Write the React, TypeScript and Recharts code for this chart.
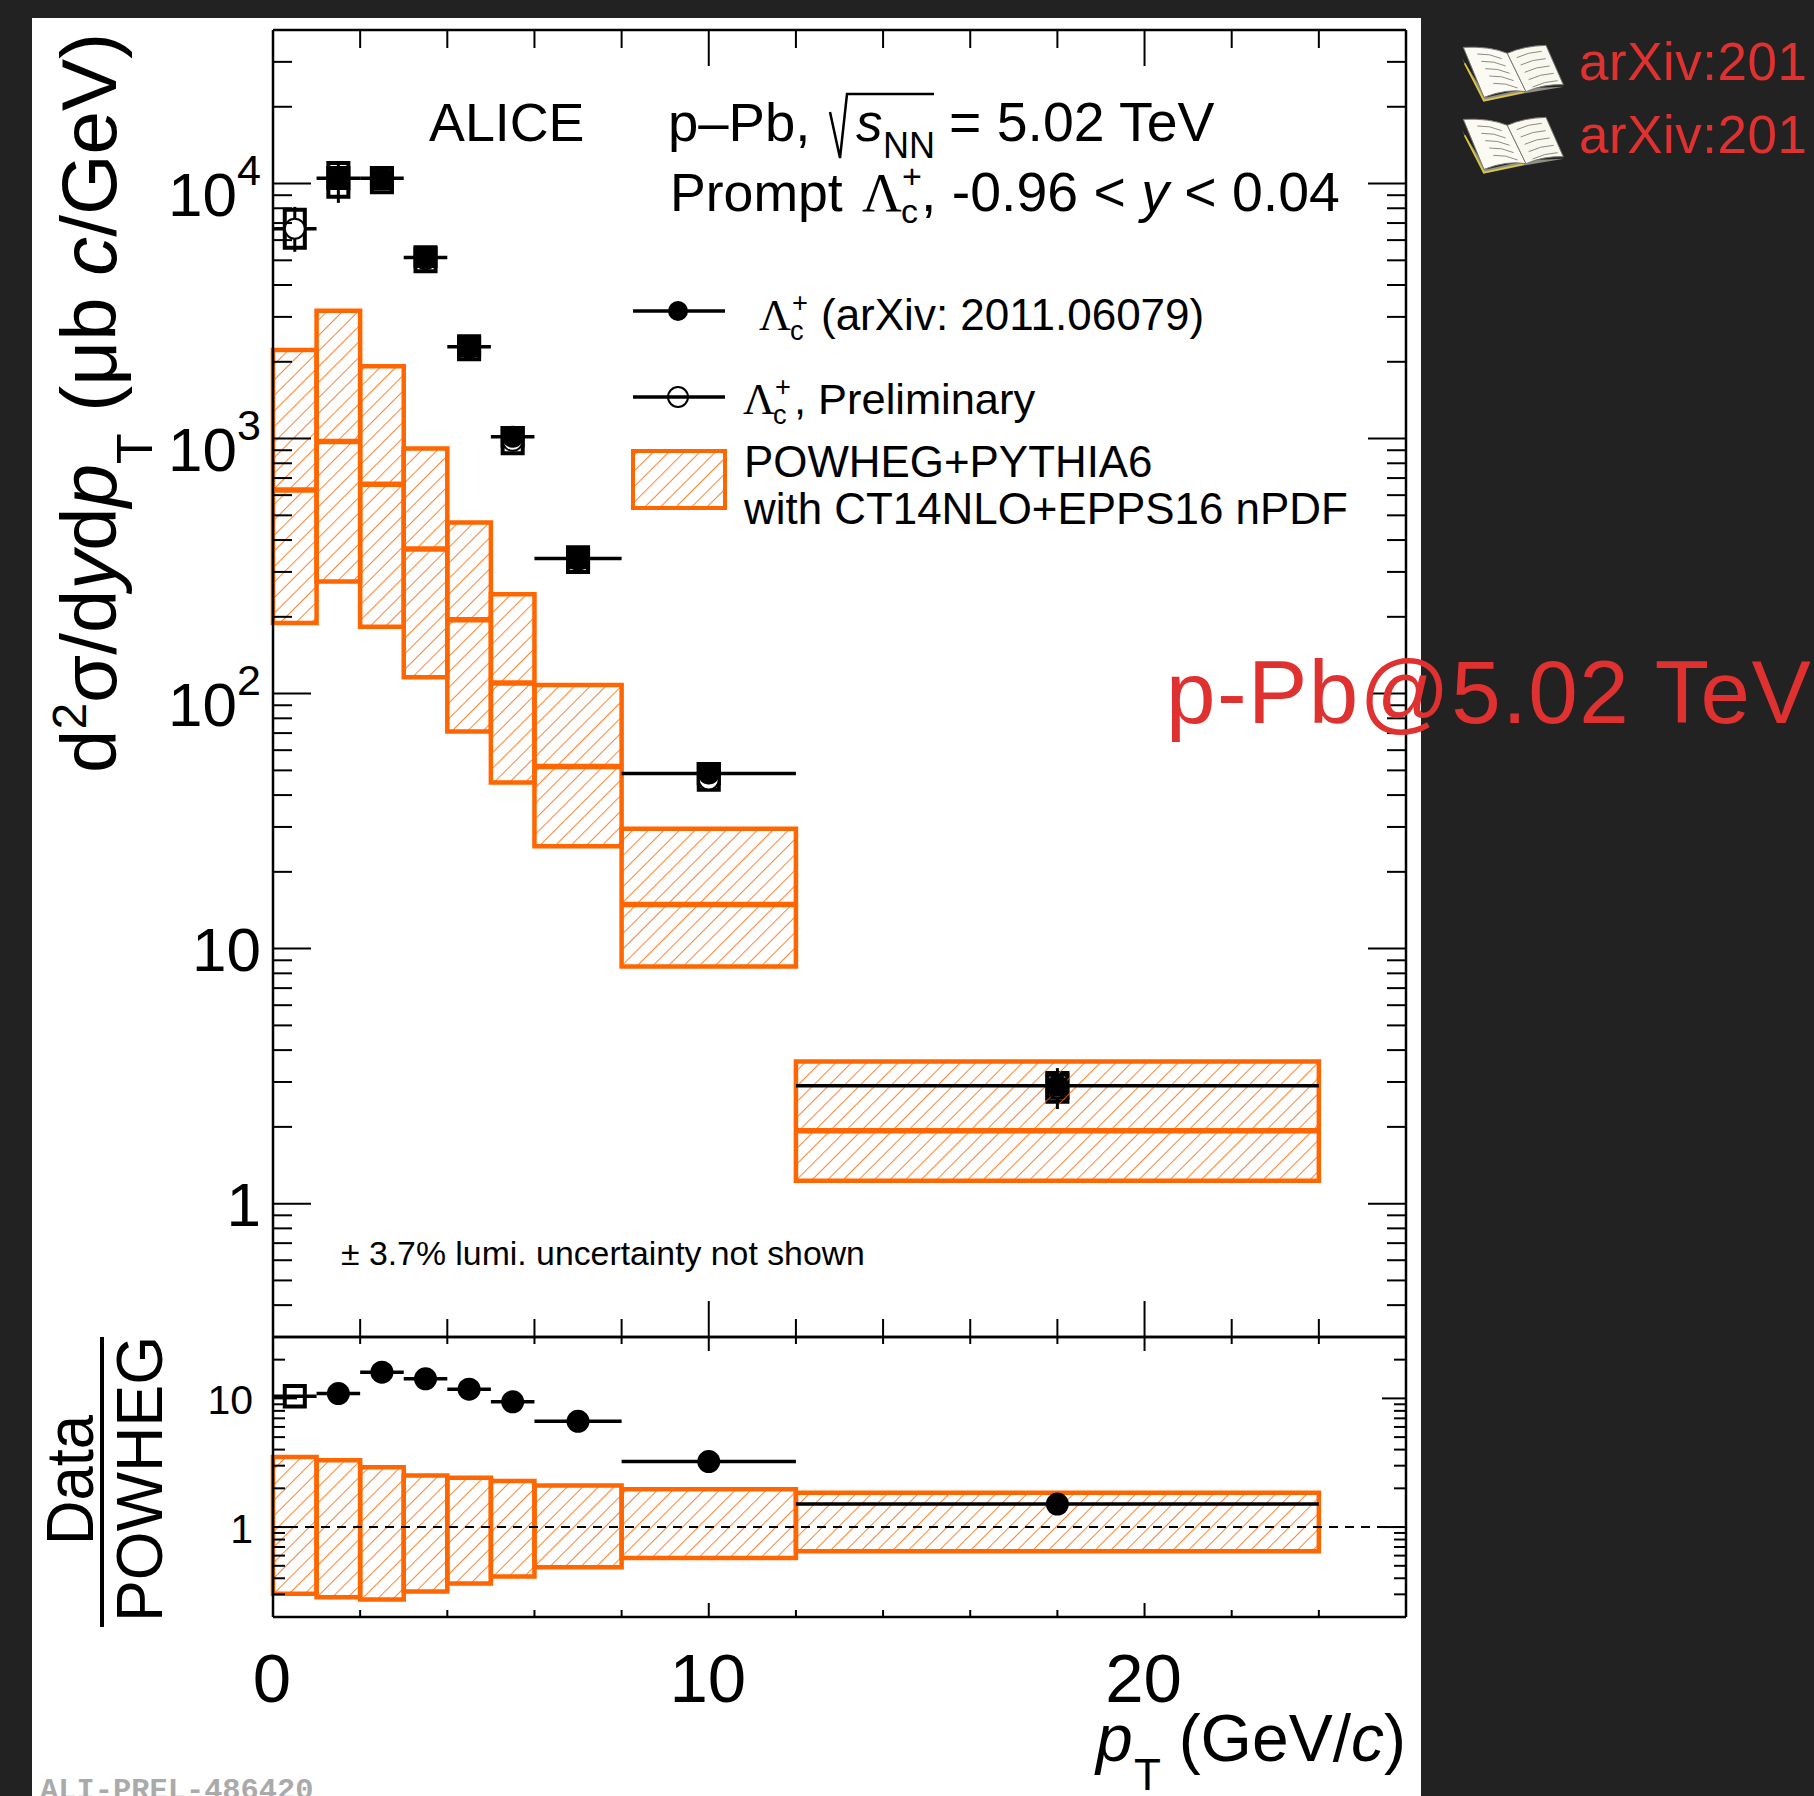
import React from 'react';
import {
  ComposedChart,
  ErrorBar,
  ReferenceArea,
  ReferenceLine,
  Scatter,
  XAxis,
  YAxis,
} from 'recharts';

// model bins (pT edges, GeV/c)
const binLow = [0, 1, 2, 3, 4, 5, 6, 8, 12];
const binHigh = [1, 2, 3, 4, 5, 6, 8, 12, 24];
const modelCentral = [628, 974, 662, 369, 195, 110, 51.8, 14.9, 1.93];
const modelUpper = [2223, 3170, 1920, 915, 469, 245, 108, 29.5, 3.61];
const modelLower = [189, 275, 183, 116, 71, 44.8, 25.2, 8.5, 1.23];
const ratioUpper = [3.5, 3.3, 2.91, 2.52, 2.42, 2.28, 2.1, 1.97, 1.85];
const ratioLower = [0.303, 0.285, 0.274, 0.316, 0.365, 0.413, 0.487, 0.574, 0.649];

// published points
const finalX = [1.5, 2.5, 3.5, 4.5, 5.5, 7, 10, 18];
const finalXLow = [1, 2, 3, 4, 5, 6, 8, 12];
const finalXHigh = [2, 3, 4, 5, 6, 8, 12, 24];
const finalValue = [10500, 10500, 5130, 2292, 1016, 339, 48.6, 2.9];
const finalSysUp = [11500, 11500, 5550, 2480, 1100, 365, 53, 3.2];
const finalSysDown = [9600, 9600, 4750, 2120, 940, 313, 44.5, 2.6];

// preliminary points (only the first bin shows its own horizontal bar)
const prelimX = [0.5, 1.5, 2.5, 3.5, 4.5, 5.5, 7, 10, 18];
const prelimXLow = [0, 1.5, 2.5, 3.5, 4.5, 5.5, 7, 10, 18];
const prelimXHigh = [1, 1.5, 2.5, 3.5, 4.5, 5.5, 7, 10, 18];
const prelimValue = [6650, 10500, 10400, 5050, 2270, 980, 335, 46, 2.85];
const prelimSysUp = [7900, 12050, 11500, 5630, 2520, 1100, 375, 52.9, 3.25];
const prelimSysDown = [5600, 8870, 9240, 4530, 2045, 875, 300, 42, 2.51];
const prelimStatUp = [8100, 12200, 11300, 5500, 2450, 1050, 360, 51, 3.4];
const prelimStatDown = [5400, 8400, 9500, 4650, 2100, 910, 310, 41.5, 2.35];

// data / model
const ratioX = [1.5, 2.5, 3.5, 4.5, 5.5, 7, 10, 18];
const ratioValue = [10.9, 16, 14.2, 11.8, 9.4, 6.63, 3.23, 1.51];
const ratioOpenX = [0.5];
const ratioOpenLow = [0];
const ratioOpenHigh = [1];
const ratioOpenValue = [10.4];

const xTicks = [0, 2, 4, 6, 8, 10, 12, 14, 16, 18, 20, 22, 24];
const xLabelled = [0, 10, 20];
const mainYTicks = [
  0.3, 0.4, 0.5, 0.6, 0.7, 0.8, 0.9, 1, 2, 3, 4, 5, 6, 7, 8, 9, 10, 20, 30, 40, 50, 60, 70, 80, 90,
  100, 200, 300, 400, 500, 600, 700, 800, 900, 1000, 2000, 3000, 4000, 5000, 6000, 7000, 8000, 9000,
  10000, 20000, 30000, 40000,
];
const mainMajors = [1, 10, 100, 1000, 10000];
const ratioYTicks = [0.2, 0.3, 0.4, 0.5, 0.6, 0.7, 0.8, 0.9, 1, 2, 3, 4, 5, 6, 7, 8, 9, 10, 20, 30];
const ratioMajors = [1, 10];

const ORANGE = '#ff6600';
const SANS = '"Liberation Sans", Arial, sans-serif';
const RED = '#e03131';
const BOX_HALF = 0.23;

const PLOT_LEFT = 273;
const PLOT_RIGHT = 1406;
const MAIN_TOP = 30;
const MAIN_BOTTOM = 1337;
const RATIO_BOTTOM = 1617;
const W = 1814;
const H = 1796;

const pointRows = (xs, lows, highs, vals, statUp?, statDown?) =>
  xs.map((x, i) => ({
    x,
    y: vals[i],
    xErr: [x - lows[i], highs[i] - x],
    yErr: statUp ? [vals[i] - statDown[i], statUp[i] - vals[i]] : [0, 0],
  }));

const finalRows = pointRows(finalX, finalXLow, finalXHigh, finalValue);
const prelimRows = pointRows(prelimX, prelimXLow, prelimXHigh, prelimValue, prelimStatUp, prelimStatDown);
const ratioRows = pointRows(ratioX, finalXLow, finalXHigh, ratioValue);
const ratioOpenRows = pointRows(ratioOpenX, ratioOpenLow, ratioOpenHigh, ratioOpenValue);

const SolidDot = ({ cx, cy }: any) => <circle cx={cx} cy={cy} r={11} fill="#000" />;
const RatioDot = ({ cx, cy }: any) => <circle cx={cx} cy={cy} r={11.5} fill="#000" />;
const OpenDot = ({ cx, cy }: any) => <circle cx={cx} cy={cy} r={10} fill="#fff" stroke="#000" strokeWidth={2} />;

function xTick(dir: 1 | -1, minor: number, major: number, labelled: boolean) {
  return ({ x, y, payload }: any) => {
    const isMajor = xLabelled.includes(payload.value);
    const edge = payload.value === 0;
    return (
      <g>
        {!edge && <line x1={x} x2={x} y1={y} y2={y + dir * (isMajor ? major : minor)} stroke="#000" strokeWidth={2} />}
        {labelled && isMajor && (
          <text x={x - 1} y={y + 85} textAnchor="middle" fontFamily={SANS} fontSize={69} fill="#000">
            {payload.value}
          </text>
        )}
      </g>
    );
  };
}

function yTick(dir: 1 | -1, majors: number[], minor: number, major: number, label: 'main' | 'ratio' | null) {
  return ({ x, y, payload }: any) => {
    const isMajor = majors.includes(payload.value);
    const v = payload.value;
    return (
      <g>
        <line x1={x} x2={x + dir * (isMajor ? major : minor)} y1={y} y2={y} stroke="#000" strokeWidth={2} />
        {label === 'main' && isMajor && v >= 100 && (
          <text x={261} y={y + 32} textAnchor="end" fontFamily={SANS} fontSize={62} fill="#000">
            10
            <tspan fontSize={43} dy={-31}>
              {Math.round(Math.log10(v))}
            </tspan>
          </text>
        )}
        {label === 'main' && isMajor && v < 100 && (
          <text x={261} y={y + 22} textAnchor="end" fontFamily={SANS} fontSize={62} fill="#000">
            {v}
          </text>
        )}
        {label === 'ratio' && isMajor && (
          <text x={253} y={y + 16} textAnchor="end" fontFamily={SANS} fontSize={41} fill="#000">
            {v}
          </text>
        )}
      </g>
    );
  };
}

function Axes({ domain, ticks, majors, minor, major, xMinor, xMajor, labelX, yLabel }: any) {
  const line = { stroke: '#000', strokeWidth: 2.5 };
  const common = { tickSize: 0, tickMargin: 0, tickLine: false, interval: 0 as const, axisLine: line };
  return (
    <>
      <XAxis xAxisId="b" type="number" dataKey="x" domain={[0, 26]} ticks={xTicks} height={1} orientation="bottom"
        allowDataOverflow tick={xTick(-1, xMinor, xMajor, labelX)} {...common} />
      <XAxis xAxisId="t" type="number" dataKey="x" domain={[0, 26]} ticks={xTicks} height={1} orientation="top"
        allowDataOverflow tick={xTick(1, xMinor, xMajor, false)} {...common} />
      <YAxis yAxisId="l" type="number" scale="log" dataKey="y" domain={domain} ticks={ticks} width={1} orientation="left"
        allowDataOverflow tick={yTick(1, majors, minor, major, yLabel)} {...common} />
      <YAxis yAxisId="r" type="number" scale="log" dataKey="y" domain={domain} ticks={ticks} width={1} orientation="right"
        allowDataOverflow tick={yTick(-1, majors, minor, major, null)} {...common} />
    </>
  );
}

function HatchBox({ x1, x2, y1, y2, width = 4.5 }: any) {
  return (
    <ReferenceArea xAxisId="b" yAxisId="l" x1={x1} x2={x2} y1={y1} y2={y2} ifOverflow="visible"
      fill="url(#hatch)" fillOpacity={1} stroke={ORANGE} strokeWidth={width} />
  );
}

function SysBox({ x, up, down }: any) {
  return (
    <ReferenceArea xAxisId="b" yAxisId="l" x1={x - BOX_HALF} x2={x + BOX_HALF} y1={down} y2={up} ifOverflow="visible"
      fill="none" stroke="#000" strokeWidth={4} />
  );
}

function MainPanel() {
  return (
    <ComposedChart width={W} height={H}
      margin={{ left: PLOT_LEFT - 1, right: W - PLOT_RIGHT - 1, top: MAIN_TOP - 1, bottom: H - MAIN_BOTTOM - 1 }}
      style={{ position: 'absolute', left: 0, top: 0 }}>
      <Axes domain={[0.3, 40000]} ticks={mainYTicks} majors={mainMajors} minor={19} major={38} xMinor={18} xMajor={36} labelX={false} yLabel="main" />
      {prelimX.map((x, i) => (
        <SysBox key={`p${i}`} x={x} up={prelimSysUp[i]} down={prelimSysDown[i]} />
      ))}
      {finalX.map((x, i) => (
        <SysBox key={`f${i}`} x={x} up={finalSysUp[i]} down={finalSysDown[i]} />
      ))}
      <Scatter xAxisId="b" yAxisId="l" data={prelimRows} dataKey="y" shape={OpenDot} isAnimationActive={false}>
        <ErrorBar dataKey="xErr" direction="x" width={0} stroke="#000" strokeWidth={3.5} isAnimationActive={false} />
        <ErrorBar dataKey="yErr" direction="y" width={0} stroke="#000" strokeWidth={3} isAnimationActive={false} />
      </Scatter>
      <Scatter xAxisId="b" yAxisId="l" data={finalRows} dataKey="y" shape={SolidDot} isAnimationActive={false}>
        <ErrorBar dataKey="xErr" direction="x" width={0} stroke="#000" strokeWidth={3.5} isAnimationActive={false} />
      </Scatter>
      {binLow.map((lo, i) => (
        <HatchBox key={`m${i}`} x1={lo} x2={binHigh[i]} y1={modelLower[i]} y2={modelUpper[i]} />
      ))}
      {binLow.map((lo, i) => (
        <ReferenceLine key={`c${i}`} xAxisId="b" yAxisId="l" ifOverflow="visible" stroke={ORANGE} strokeWidth={5.5}
          segment={[{ x: lo, y: modelCentral[i] }, { x: binHigh[i], y: modelCentral[i] }]} />
      ))}
    </ComposedChart>
  );
}

function RatioPanel() {
  return (
    <ComposedChart width={W} height={H}
      margin={{ left: PLOT_LEFT - 1, right: W - PLOT_RIGHT - 1, top: MAIN_BOTTOM - 1, bottom: H - RATIO_BOTTOM - 1 }}
      style={{ position: 'absolute', left: 0, top: 0 }}>
      <Axes domain={[0.2, 30]} ticks={ratioYTicks} majors={ratioMajors} minor={12} major={24} xMinor={7} xMajor={14} labelX yLabel="ratio" />
      <Scatter xAxisId="b" yAxisId="l" data={ratioOpenRows} dataKey="y" shape={() => null} isAnimationActive={false}>
        <ErrorBar dataKey="xErr" direction="x" width={0} stroke="#000" strokeWidth={3.5} isAnimationActive={false} />
      </Scatter>
      {ratioOpenX.map((x, i) => (
        <ReferenceArea key={`o${i}`} xAxisId="b" yAxisId="l" ifOverflow="visible" x1={x - BOX_HALF} x2={x + BOX_HALF}
          y1={ratioOpenValue[i] / 1.2} y2={ratioOpenValue[i] * 1.2} fill="#fff" fillOpacity={1} stroke="#000" strokeWidth={4} />
      ))}
      <Scatter xAxisId="b" yAxisId="l" data={ratioRows} dataKey="y" shape={RatioDot} isAnimationActive={false}>
        <ErrorBar dataKey="xErr" direction="x" width={0} stroke="#000" strokeWidth={3.5} isAnimationActive={false} />
      </Scatter>
      {binLow.map((lo, i) => (
        <HatchBox key={`r${i}`} x1={lo} x2={binHigh[i]} y1={ratioLower[i]} y2={ratioUpper[i]} />
      ))}
      <ReferenceLine xAxisId="b" yAxisId="l" y={1} stroke="#000" strokeWidth={2} strokeDasharray="9 7" />
    </ComposedChart>
  );
}

function Book({ y }: { y: number }) {
  return (
    <g transform={`translate(1400 ${y}) scale(0.3333)`}>
      <path d="M186 145 L250 275 L385 248 L492 230 L380 235 L260 262 Z" fill="#8f8f86" />
      <path d="M194 160 L252 272 L372 246" fill="none" stroke="#e2c83a" strokeWidth={5} />
      <path d="M190 112 Q270 108 322 130 L378 245 Q320 235 252 262 Z" fill="#fbfbf3" stroke="#77776f" strokeWidth={3} />
      <path d="M322 130 Q370 108 438 106 L490 224 Q430 222 378 245 Z" fill="#f8f8ee" stroke="#77776f" strokeWidth={3} />
      {[0, 1, 2, 3, 4].map((k) => (
        <g key={k} stroke="#8b8b84" strokeWidth={3} fill="none">
          <path d={`M${232 + k * 12} ${132 + k * 22} Q${270 + k * 12} ${130 + k * 22} ${305 + k * 12} ${146 + k * 22}`} />
          <path d={`M${350 + k * 12} ${143 + k * 22} Q${385 + k * 12} ${126 + k * 22} ${425 + k * 12} ${124 + k * 22}`} />
        </g>
      ))}
    </g>
  );
}

function LambdaC({ x, y, size, subX, supX }: any) {
  return (
    <>
      <text x={x} y={y} fontFamily='"Liberation Serif", serif' fontSize={size}>Λ</text>
      <text x={subX} y={y + size * 0.22} fontFamily={SANS} fontSize={size * 0.62}>c</text>
      <text x={supX} y={y - size * 0.42} fontFamily={SANS} fontSize={size * 0.62}>+</text>
    </>
  );
}

function Overlay() {
  return (
    <svg width={W} height={H} style={{ position: 'absolute', left: 0, top: 0 }} fontFamily={SANS} fill="#000">
      <defs>
        <pattern id="hatch" patternUnits="userSpaceOnUse" width={11} height={11} patternTransform="rotate(45)">
          <line x1={0} y1={0} x2={0} y2={11} stroke={ORANGE} strokeWidth={1.6} />
        </pattern>
      </defs>

      {/* y title */}
      <text transform="translate(116 773) rotate(-90)" fontSize={78}>
        d<tspan fontSize={48} dy={-30}>2</tspan>
        <tspan dy={30}>σ/d</tspan>
        <tspan fontStyle="italic">y</tspan>d<tspan fontStyle="italic">p</tspan>
        <tspan fontSize={50} dy={36}>T</tspan>
        <tspan dy={-36}> (μb </tspan>
        <tspan fontStyle="italic">c</tspan>/GeV)
      </text>

      {/* ratio title */}
      <text transform="translate(93 1545) rotate(-90)" fontSize={66} textLength={130} lengthAdjust="spacingAndGlyphs">Data</text>
      <text transform="translate(162 1622) rotate(-90)" fontSize={65} textLength={286} lengthAdjust="spacingAndGlyphs">POWHEG</text>
      <line x1={102} y1={1337} x2={102} y2={1627} stroke="#000" strokeWidth={4} />

      {/* x title */}
      <text x={1096} y={1761} fontSize={66} fontStyle="italic">p</text>
      <text x={1134} y={1790} fontSize={44}>T</text>
      <text x={1406} y={1761} fontSize={66} textAnchor="end">
        (GeV/<tspan fontStyle="italic">c</tspan>)
      </text>

      {/* header */}
      <text x={429} y={141} fontSize={53.8}>ALICE</text>
      <text x={668} y={141} fontSize={54.5}>p–Pb,</text>
      <path d="M830 112 L840 158 L847 94 L934 94" fill="none" stroke="#000" strokeWidth={2.5} />
      <text x={856} y={141} fontSize={53} fontStyle="italic">s</text>
      <text x={883} y={158} fontSize={36}>NN</text>
      <text x={949} y={141} fontSize={55.4}>= 5.02 TeV</text>
      <text x={670} y={211} fontSize={53.6}>Prompt</text>
      <LambdaC x={862} y={211} size={55} subX={901} supX={902} />
      <text x={921} y={211} fontSize={55.4}>
        , -0.96 &lt; <tspan fontStyle="italic">y</tspan> &lt; 0.04
      </text>

      {/* legend */}
      <line x1={633} x2={725} y1={311} y2={311} stroke="#000" strokeWidth={3.5} />
      <circle cx={678} cy={311} r={10} fill="#000" />
      <LambdaC x={759} y={330} size={44} subX={790} supX={792} />
      <text x={821} y={330} fontSize={44}>(arXiv: 2011.06079)</text>
      <line x1={633} x2={725} y1={397} y2={397} stroke="#000" strokeWidth={3.5} />
      <circle cx={678} cy={397} r={10} fill="none" stroke="#000" strokeWidth={2} />
      <LambdaC x={743} y={414} size={44} subX={773} supX={775} />
      <text x={794} y={414} fontSize={43.4}>, Preliminary</text>
      <rect x={633} y={451} width={92} height={57} fill="url(#hatch)" stroke={ORANGE} strokeWidth={4} />
      <text x={744} y={477} fontSize={43.9}>POWHEG+PYTHIA6</text>
      <text x={744} y={524} fontSize={43.9}>with CT14NLO+EPPS16 nPDF</text>

      <text x={341} y={1265} fontSize={33.8}>± 3.7% lumi. uncertainty not shown</text>

      <text x={40} y={1799} fontFamily='"Liberation Mono", monospace' fontWeight="bold" fontSize={30.4} fill="#aaaaaa">
        ALI-PREL-486420
      </text>

      {/* annotations */}
      <Book y={10} />
      <Book y={82} />
      <text x={1579} y={80} fontSize={53} letterSpacing={0.5} fill={RED}>arXiv:201</text>
      <text x={1579} y={153} fontSize={53} letterSpacing={0.5} fill={RED}>arXiv:201</text>
      <text x={1166} y={723} fontSize={89} letterSpacing={1.4} fill={RED}>p-Pb@5.02 TeV</text>
    </svg>
  );
}

export default function App() {
  return (
    <div style={{ position: 'absolute', left: 0, top: 0, width: W, height: H, overflow: 'hidden', background: '#222222' }}>
      <div style={{ position: 'absolute', left: 32, top: 18, width: 1389, height: H - 18, background: '#fff' }} />
      <MainPanel />
      <RatioPanel />
      <Overlay />
    </div>
  );
}
